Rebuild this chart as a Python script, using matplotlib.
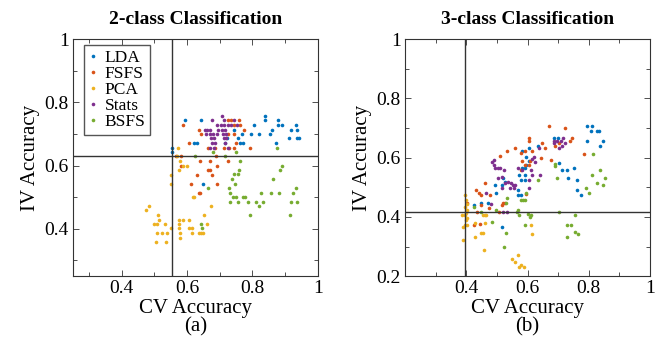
import numpy as np
import matplotlib
matplotlib.use('Agg')
import matplotlib.pyplot as plt
from matplotlib.ticker import MultipleLocator

plt.rcParams['font.family'] = ['Liberation Serif', 'DejaVu Serif']

# ---- 2-class data (CV accuracy, IV accuracy) ----
lda2_x = [0.595, 0.642, 0.839, 0.839, 0.879, 0.879, 0.891, 0.932, 0.806, 0.860, 0.919, 0.935, 0.767, 0.795,
          0.819, 0.855, 0.911, 0.935, 0.944, 0.757, 0.763, 0.772, 0.872, 0.621, 0.629, 0.555, 0.553, 0.648,
          0.722, 0.717, 0.743]
lda2_y = [0.743, 0.743, 0.757, 0.743, 0.743, 0.729, 0.729, 0.729, 0.729, 0.714, 0.714, 0.714, 0.700, 0.700,
          0.700, 0.700, 0.686, 0.686, 0.686, 0.686, 0.671, 0.671, 0.671, 0.671, 0.671, 0.657, 0.643, 0.543,
          0.686, 0.671, 0.714]

fsfs2_x = [0.588, 0.635, 0.642, 0.607, 0.665, 0.686, 0.712, 0.726, 0.726, 0.734, 0.759, 0.743, 0.763, 0.774,
           0.745, 0.749, 0.728, 0.745, 0.794, 0.566, 0.580, 0.687, 0.582, 0.640, 0.669, 0.693, 0.665, 0.671,
           0.631, 0.676, 0.611, 0.693, 0.635, 0.640, 0.726]
fsfs2_y = [0.729, 0.714, 0.700, 0.671, 0.657, 0.657, 0.657, 0.700, 0.743, 0.743, 0.743, 0.729, 0.729, 0.714,
           0.700, 0.671, 0.657, 0.657, 0.657, 0.629, 0.629, 0.629, 0.600, 0.614, 0.614, 0.600, 0.586, 0.586,
           0.571, 0.571, 0.543, 0.543, 0.514, 0.514, 0.614]

pca2_x = [0.483, 0.473, 0.511, 0.514, 0.500, 0.508, 0.531, 0.508, 0.522, 0.537, 0.504, 0.535, 0.552, 0.576,
          0.586, 0.607, 0.576, 0.576, 0.607, 0.615, 0.578, 0.614, 0.635, 0.642, 0.648, 0.578, 0.652, 0.662,
          0.673, 0.617, 0.622, 0.573, 0.586, 0.601, 0.574, 0.552, 0.552, 0.568, 0.578]
pca2_y = [0.472, 0.458, 0.444, 0.429, 0.415, 0.415, 0.415, 0.388, 0.388, 0.388, 0.359, 0.359, 0.401, 0.429,
          0.429, 0.429, 0.415, 0.401, 0.401, 0.401, 0.388, 0.388, 0.388, 0.388, 0.388, 0.372, 0.444, 0.415,
          0.472, 0.500, 0.500, 0.657, 0.600, 0.600, 0.586, 0.571, 0.543, 0.629, 0.614]

stats2_x = [0.676, 0.707, 0.714, 0.693, 0.704, 0.712, 0.724, 0.734, 0.655, 0.662, 0.671, 0.696, 0.707, 0.717,
            0.658, 0.669, 0.679, 0.691, 0.710, 0.718, 0.673, 0.683, 0.712, 0.720, 0.676, 0.686, 0.717, 0.671,
            0.681, 0.724, 0.743, 0.753]
stats2_y = [0.743, 0.757, 0.743, 0.729, 0.729, 0.729, 0.729, 0.729, 0.714, 0.714, 0.714, 0.714, 0.714, 0.714,
            0.700, 0.700, 0.700, 0.700, 0.700, 0.700, 0.686, 0.686, 0.686, 0.686, 0.671, 0.671, 0.671, 0.657,
            0.657, 0.657, 0.743, 0.729]

bsfs2_x = [0.678, 0.749, 0.624, 0.717, 0.761, 0.891, 0.883, 0.759, 0.742, 0.757, 0.737, 0.862, 0.747, 0.663,
           0.728, 0.932, 0.730, 0.825, 0.858, 0.881, 0.925, 0.741, 0.749, 0.771, 0.776, 0.731, 0.755, 0.786,
           0.811, 0.831, 0.917, 0.935, 0.819, 0.792, 0.915, 0.642, 0.645, 0.874]
bsfs2_y = [0.643, 0.643, 0.629, 0.629, 0.614, 0.600, 0.586, 0.586, 0.572, 0.572, 0.557, 0.557, 0.543, 0.529,
           0.529, 0.529, 0.514, 0.514, 0.514, 0.514, 0.514, 0.500, 0.500, 0.500, 0.500, 0.486, 0.486, 0.486,
           0.486, 0.486, 0.486, 0.486, 0.472, 0.444, 0.444, 0.415, 0.401, 0.657]

# ---- 3-class data ----
lda3_x = [0.794, 0.810, 0.808, 0.825, 0.834, 0.686, 0.699, 0.794, 0.846, 0.837, 0.701, 0.750, 0.712, 0.729,
          0.731, 0.762, 0.762, 0.775, 0.633, 0.604, 0.583, 0.582, 0.591, 0.596, 0.596, 0.604, 0.571, 0.591,
          0.580, 0.591, 0.567, 0.569, 0.578, 0.520, 0.525, 0.515, 0.493, 0.498, 0.447, 0.469, 0.425, 0.517]
lda3_y = [0.708, 0.708, 0.691, 0.691, 0.691, 0.665, 0.665, 0.657, 0.657, 0.640, 0.583, 0.566, 0.558, 0.558,
          0.532, 0.524, 0.490, 0.473, 0.640, 0.631, 0.623, 0.566, 0.566, 0.575, 0.603, 0.588, 0.541, 0.541,
          0.524, 0.524, 0.490, 0.473, 0.473, 0.533, 0.518, 0.507, 0.507, 0.482, 0.448, 0.448, 0.439, 0.366]

fsfs3_x = [0.671, 0.723, 0.746, 0.738, 0.604, 0.604, 0.647, 0.704, 0.691, 0.657, 0.558, 0.533, 0.593, 0.613,
           0.580, 0.511, 0.784, 0.644, 0.582, 0.607, 0.677, 0.593, 0.604, 0.580, 0.460, 0.433, 0.440, 0.447,
           0.476, 0.403, 0.449, 0.473, 0.520, 0.525, 0.515, 0.507, 0.436, 0.444, 0.425, 0.596]
fsfs3_y = [0.708, 0.699, 0.665, 0.657, 0.665, 0.657, 0.648, 0.648, 0.640, 0.631, 0.633, 0.624, 0.622, 0.622,
           0.615, 0.606, 0.614, 0.600, 0.589, 0.589, 0.592, 0.575, 0.575, 0.558, 0.515, 0.490, 0.482, 0.473,
           0.473, 0.448, 0.439, 0.431, 0.448, 0.448, 0.439, 0.415, 0.415, 0.377, 0.372, 0.479]

pca3_x = [0.395, 0.398, 0.402, 0.395, 0.402, 0.398, 0.395, 0.402, 0.398, 0.395, 0.402, 0.389, 0.389, 0.386,
          0.429, 0.462, 0.465, 0.455, 0.460, 0.449, 0.455, 0.429, 0.458, 0.569, 0.549, 0.558, 0.578, 0.571,
          0.589, 0.611, 0.613]
pca3_y = [0.473, 0.456, 0.445, 0.434, 0.422, 0.413, 0.406, 0.398, 0.389, 0.372, 0.372, 0.366, 0.323, 0.408,
          0.381, 0.381, 0.408, 0.408, 0.408, 0.347, 0.347, 0.332, 0.289, 0.272, 0.257, 0.248, 0.239, 0.231,
          0.231, 0.374, 0.343]

stats3_x = [0.491, 0.485, 0.489, 0.495, 0.504, 0.510, 0.523, 0.567, 0.582, 0.515, 0.504, 0.536, 0.525, 0.545,
            0.553, 0.542, 0.517, 0.556, 0.560, 0.613, 0.620, 0.624, 0.611, 0.613, 0.642, 0.604, 0.604, 0.465,
            0.482, 0.520, 0.534, 0.685, 0.697, 0.708, 0.715, 0.685, 0.713, 0.723, 0.704, 0.636]
stats3_y = [0.592, 0.584, 0.575, 0.566, 0.566, 0.566, 0.558, 0.566, 0.558, 0.535, 0.532, 0.518, 0.515, 0.515,
            0.507, 0.499, 0.499, 0.499, 0.507, 0.595, 0.603, 0.586, 0.558, 0.543, 0.541, 0.498, 0.524, 0.482,
            0.445, 0.417, 0.415, 0.657, 0.657, 0.657, 0.665, 0.648, 0.640, 0.648, 0.631, 0.631]

bsfs3_x = [0.813, 0.688, 0.688, 0.835, 0.810, 0.854, 0.696, 0.826, 0.846, 0.792, 0.802, 0.633, 0.702, 0.756,
           0.729, 0.742, 0.756, 0.764, 0.729, 0.424, 0.449, 0.484, 0.528, 0.533, 0.498, 0.564, 0.569, 0.571,
           0.580, 0.585, 0.591, 0.596, 0.602, 0.611, 0.607, 0.591, 0.528, 0.523]
bsfs3_y = [0.614, 0.580, 0.572, 0.558, 0.541, 0.532, 0.532, 0.515, 0.507, 0.499, 0.482, 0.524, 0.415, 0.408,
           0.374, 0.374, 0.349, 0.341, 0.331, 0.434, 0.415, 0.383, 0.448, 0.465, 0.422, 0.417, 0.422, 0.408,
           0.456, 0.456, 0.456, 0.482, 0.411, 0.406, 0.400, 0.374, 0.347, 0.298]

names = ['LDA', 'FSFS', 'PCA', 'Stats', 'BSFS']
colors = ['#0072BD', '#D95319', '#EDB120', '#7E2F8E', '#77AC30']

panels = [
    dict(title='2-class Classification', sub='(a)', xlim=(0.25, 1), ylim=(0.25, 1),
         yticks=[0.4, 0.6, 0.8, 1], vline=0.553, hline=0.629,
         data=[(lda2_x, lda2_y), (fsfs2_x, fsfs2_y), (pca2_x, pca2_y), (stats2_x, stats2_y), (bsfs2_x, bsfs2_y)]),
    dict(title='3-class Classification', sub='(b)', xlim=(0.2, 1), ylim=(0.2, 1),
         yticks=[0.2, 0.4, 0.6, 0.8, 1], vline=0.397, hline=0.417,
         data=[(lda3_x, lda3_y), (fsfs3_x, fsfs3_y), (pca3_x, pca3_y), (stats3_x, stats3_y), (bsfs3_x, bsfs3_y)]),
]

fig = plt.figure(figsize=(6.62, 3.5), dpi=100)
lefts = [0.110, 0.612]

for i, p in enumerate(panels):
    ax = fig.add_axes([lefts[i], 0.211, 0.370, 0.677])
    for (x, y), nm, c in zip(p['data'], names, colors):
        ax.plot(x, y, 'o', ms=2.6, mew=0, color=c, label=nm)
    ax.axvline(p['vline'], color='#333333', lw=1)
    ax.axhline(p['hline'], color='#333333', lw=1)
    ax.set_xlim(p['xlim'])
    ax.set_ylim(p['ylim'])
    ax.set_xticks([0.4, 0.6, 0.8, 1])
    ax.set_xticklabels(['0.4', '0.6', '0.8', '1'])
    ax.set_yticks(p['yticks'])
    ax.set_yticklabels(['%g' % v for v in p['yticks']])
    ax.xaxis.set_minor_locator(MultipleLocator(0.1))
    ax.yaxis.set_minor_locator(MultipleLocator(0.1))
    ax.tick_params(which='both', direction='in', top=True, right=True, labelsize=14,
                   color='#333333', width=0.6, pad=3)
    ax.tick_params(which='major', length=4)
    ax.tick_params(which='minor', length=3)
    for s in ax.spines.values():
        s.set_linewidth(0.8)
        s.set_color('#333333')
    ax.set_title(p['title'], fontsize=14, fontweight='bold', pad=11)
    ax.set_xlabel('CV Accuracy\n' + p['sub'], fontsize=15, linespacing=1.0, labelpad=1)
    ax.set_ylabel('IV Accuracy', fontsize=15, labelpad=3)
    if i == 0:
        ax.legend(loc='upper left', bbox_to_anchor=(0.045, 0.975), fontsize=12.5, frameon=True, fancybox=False,
                  edgecolor='#555555', framealpha=1, labelspacing=0.0, handlelength=0.5, handletextpad=0.45,
                  borderpad=0.25, borderaxespad=0, markerscale=1.0)

fig.savefig('out.png', dpi=100)
